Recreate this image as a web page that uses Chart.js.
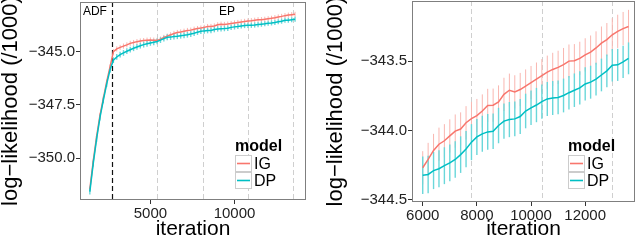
<!DOCTYPE html>
<html><head><meta charset="utf-8">
<script src="https://cdn.jsdelivr.net/npm/chart.js@4.4.0/dist/chart.umd.min.js"></script>
<style>
html,body{margin:0;padding:0;background:#fff;width:640px;height:241px;overflow:hidden}
canvas{position:absolute;top:0}
#left{left:0}
#right{left:320px}
</style></head><body>
<canvas id="left" width="320" height="241"></canvas>
<canvas id="right" width="320" height="241"></canvas>
<script>
// ---------------- data ----------------
const iterations = [1400,1600,1800,2000,2200,2400,2600,2800,3000,3200,3400,3600,3800,4000,4200,4400,4600,4800,5000,5200,5400,5600,5800,
  6000,6200,6400,6600,6800,7000,7200,7400,7600,7800,8000,8200,8400,8600,8800,9000,9200,9400,9600,9800,10000,10200,10400,10600,10800,
  11000,11200,11400,11600,11800,12000,12200,12400,12600,12800,13000,13200,13400,13600];
const igValues = [-351.45,-350.15,-349.0,-348.0,-347.2,-346.42,-345.72,-345.0,-344.87,-344.8,-344.74,-344.68,-344.61,-344.57,-344.53,-344.5,-344.48,-344.46,-344.45,-344.46,-344.47,-344.41,-344.33,
  -344.27,-344.21,-344.145,-344.10,-344.075,-344.04,-344.005,-343.99,-343.945,-343.915,-343.893,-343.86,-343.82,-343.818,-343.795,-343.74,-343.71,-343.722,-343.705,-343.68,-343.655,-343.63,-343.605,-343.58,-343.56,-343.545,-343.525,-343.50,-343.497,-343.48,-343.455,-343.435,-343.405,-343.37,-343.345,-343.31,-343.285,-343.265,-343.25];
const dpValues = [-351.57,-350.25,-349.1,-348.1,-347.28,-346.52,-345.85,-345.4,-345.25,-345.14,-345.06,-344.98,-344.91,-344.84,-344.78,-344.72,-344.67,-344.63,-344.59,-344.56,-344.52,-344.46,-344.39,
  -344.324,-344.318,-344.29,-344.277,-344.255,-344.235,-344.21,-344.175,-344.135,-344.085,-344.047,-344.025,-344.011,-344.006,-343.965,-343.933,-343.922,-343.917,-343.9,-343.86,-343.837,-343.817,-343.792,-343.773,-343.766,-343.762,-343.748,-343.728,-343.71,-343.693,-343.665,-343.652,-343.63,-343.6,-343.57,-343.53,-343.527,-343.505,-343.48];
const igErrors = [0.12,0.12,0.12,0.12,0.12,0.12,0.12,0.12,0.12,0.12,0.12,0.12,0.12,0.12,0.12,0.12,0.12,0.12,0.12,0.12,0.12,0.12,0.12,
  0.12,0.12,0.12,0.12,0.12,0.12,0.12,0.12,0.12,0.12,0.12,0.12,0.12,0.12,0.12,0.12,0.12,0.12,0.12,0.12,0.12,0.12,0.12,0.12,0.12,0.12,0.12,0.12,0.12,0.12,0.12,0.12,0.12,0.12,0.12,0.12,0.12,0.12,0.12];
const dpErrors = [0.135,0.135,0.135,0.135,0.135,0.135,0.135,0.135,0.135,0.135,0.135,0.135,0.135,0.135,0.135,0.135,0.135,0.135,0.135,0.135,0.135,0.135,0.135,
  0.135,0.135,0.134,0.134,0.133,0.133,0.132,0.132,0.131,0.13,0.13,0.13,0.129,0.128,0.128,0.127,0.127,0.126,0.126,0.125,0.125,0.124,0.124,0.123,0.123,0.122,0.122,0.121,0.121,0.12,0.12,0.119,0.119,0.118,0.118,0.117,0.116,0.116,0.115];
const seriesNames = ['IG', 'DP'];
const legendTitle = 'model';
const xTitle = 'iteration';
const yTitle = 'log\u2212likelihood (/1000)';
const leftXTicks = [5000, 10000];
const leftYTicks = [-350, -347.5, -345];
const rightXTicks = [6000, 8000, 10000, 12000];
const rightYTicks = [-344.5, -344, -343.5];
const adfBoundary = [2700];
const leftEpBoundaries = [5400, 8100, 10800, 13500];
const rightEpBoundaries = [7800, 10400, 13000];
const phaseLabels = ['ADF', 'EP'];
const phaseLabelAt = [1700, 9550];
const zoomStart = 6000;

// ---------------- styling ----------------
const FONT = '"Liberation Sans", Arial, Helvetica, sans-serif';
const LINE_COLORS = ['#F8766D', '#00BFC4'];
const BAR_COLORS = ['#F9B6B0', '#6AD7DA'];

const decor = {
  id: 'decor',
  beforeDatasetsDraw(chart, args, o) {
    const {ctx, chartArea: a, scales: {x, y}} = chart;
    ctx.save();
    ctx.beginPath(); ctx.rect(a.left, a.top, a.right - a.left, a.bottom - a.top); ctx.clip();
    (o.vlines || []).forEach(v => {
      ctx.strokeStyle = v.color; ctx.lineWidth = v.width; ctx.setLineDash(v.dash);
      v.values.forEach(val => {
        const px = Math.round(x.getPixelForValue(val)) + 0.5;
        ctx.beginPath(); ctx.moveTo(px, a.top); ctx.lineTo(px, a.bottom); ctx.stroke();
      });
    });
    ctx.setLineDash([]);
    chart.data.datasets.forEach(ds => {
      ctx.strokeStyle = ds.barColor; ctx.lineWidth = ds.barWidth;
      ds.data.forEach((p, i) => {
        const px = x.getPixelForValue(p.x);
        ctx.beginPath();
        ctx.moveTo(px, y.getPixelForValue(p.y - ds.errors[i]));
        ctx.lineTo(px, y.getPixelForValue(p.y + ds.errors[i]));
        ctx.stroke();
      });
    });
    ctx.restore();
  },
  afterDraw(chart, args, o) {
    const {ctx, chartArea: a, scales: {x}} = chart;
    ctx.save();
    ctx.strokeStyle = '#7f7f7f'; ctx.lineWidth = 1;
    ctx.strokeRect(Math.round(a.left) + 0.5, Math.round(a.top) + 0.5, Math.round(a.right - a.left) - 1, Math.round(a.bottom - a.top) - 1);
    if (o.phase) {
      ctx.fillStyle = '#000'; ctx.font = '12px ' + FONT; ctx.textAlign = 'center'; ctx.textBaseline = 'top';
      phaseLabels.forEach((t, i) => ctx.fillText(t, x.getPixelForValue(phaseLabelAt[i]), a.top + 4));
    }
    const lx = o.legendX, ly = o.legendY;
    ctx.fillStyle = '#000'; ctx.textAlign = 'left'; ctx.textBaseline = 'top';
    ctx.font = 'bold 16px ' + FONT;
    ctx.fillText(legendTitle, lx, ly);
    const ks = 17;
    chart.data.datasets.forEach((ds, i) => {
      const ky = ly + 16 + i * ks;
      ctx.fillStyle = '#fff'; ctx.fillRect(lx, ky, ks, ks);
      ctx.strokeStyle = '#cccccc'; ctx.lineWidth = 1;
      ctx.strokeRect(lx + 0.5, ky + 0.5, ks - 1, ks - 1);
      ctx.strokeStyle = ds.borderColor; ctx.lineWidth = 1.6;
      ctx.beginPath(); ctx.moveTo(lx + 2, ky + ks / 2); ctx.lineTo(lx + ks - 2, ky + ks / 2); ctx.stroke();
      ctx.fillStyle = '#000'; ctx.font = '16px ' + FONT; ctx.textBaseline = 'middle';
      ctx.fillText(ds.label, lx + ks + 2, ky + ks / 2 + 1);
      ctx.textBaseline = 'top';
    });
    ctx.restore();
  }
};

function buildDatasets(minIter) {
  const vals = [igValues, dpValues], errs = [igErrors, dpErrors];
  return seriesNames.map((name, s) => {
    const pts = [], e = [];
    iterations.forEach((it, i) => { if (it >= minIter) { pts.push({x: it, y: vals[s][i]}); e.push(errs[s][i]); } });
    return {
      label: name, data: pts, errors: e,
      borderColor: LINE_COLORS[s], backgroundColor: LINE_COLORS[s],
      barColor: BAR_COLORS[s], barWidth: s === 0 ? 1 : 1.4,
      borderWidth: 1.5, pointRadius: 0, tension: 0, order: s === 0 ? 1 : 0
    };
  });
}

const fmtY = v => (v < 0 ? '\u2212' : '') + Math.abs(v).toFixed(1);

function zeroPad(s) { s.paddingTop = 0; s.paddingBottom = 0; s.paddingLeft = 0; s.paddingRight = 0; }

function makeChart(id, cfg) {
  return new Chart(document.getElementById(id), {
    type: 'line',
    data: {datasets: buildDatasets(cfg.minIter)},
    options: {
      responsive: false, animation: false, devicePixelRatio: 1,
      layout: {padding: cfg.padding},
      plugins: {legend: {display: false}, tooltip: {enabled: false}, decor: cfg.decor},
      scales: {
        x: {
          type: 'linear', min: cfg.xMin, max: cfg.xMax,
          afterBuildTicks: s => { s.ticks = cfg.xTicks.map(v => ({value: v})); },
          afterFit: s => { s.height = cfg.xHeight; zeroPad(s); },
          grid: {drawOnChartArea: false, drawTicks: true, tickLength: 4, color: '#333'},
          border: {display: false},
          ticks: {font: {family: FONT, size: 15}, color: '#222', padding: 1, maxRotation: 0, callback: v => String(v)},
          title: {display: true, text: xTitle, font: {family: FONT, size: 21, lineHeight: 1}, color: '#000', padding: {top: 0, bottom: 1}}
        },
        y: {
          type: 'linear', min: cfg.yMin, max: cfg.yMax,
          afterBuildTicks: s => { s.ticks = cfg.yTicks.map(v => ({value: v})); },
          afterFit: s => { s.width = cfg.yWidth; zeroPad(s); },
          grid: {drawOnChartArea: false, drawTicks: true, tickLength: 4, color: '#333'},
          border: {display: false},
          ticks: {font: {family: FONT, size: 15}, color: '#222', padding: 1, callback: fmtY},
          title: {display: true, text: yTitle, font: {family: FONT, size: 22, lineHeight: 1}, color: '#000', padding: {top: cfg.yTitlePad, bottom: 0}}
        }
      }
    },
    plugins: [decor]
  });
}

makeChart('left', {
  minIter: 0, xMin: 815, xMax: 14250, yMin: -351.96, yMax: -342.67,
  xTicks: leftXTicks, yTicks: leftYTicks,
  padding: {left: 0, right: 14, top: 2, bottom: 0}, xHeight: 41, yWidth: 80, yTitlePad: 0,
  decor: {
    phase: true, legendX: 235, legendY: 139,
    vlines: [
      {values: leftEpBoundaries, color: '#cfcfcf', width: 1, dash: [5, 3]},
      {values: adfBoundary, color: '#111', width: 1.2, dash: [5, 3]}
    ]
  }
});

makeChart('right', {
  minIter: zoomStart, xMin: 5604, xMax: 13839, yMin: -344.517, yMax: -343.066,
  xTicks: rightXTicks, yTicks: rightYTicks,
  padding: {left: 0, right: 5, top: 1, bottom: 0}, xHeight: 39, yWidth: 92, yTitlePad: 5,
  decor: {
    phase: false, legendX: 248, legendY: 139,
    vlines: [{values: rightEpBoundaries, color: '#cfcfcf', width: 1, dash: [5, 3]}]
  }
});
</script>
</body></html>
